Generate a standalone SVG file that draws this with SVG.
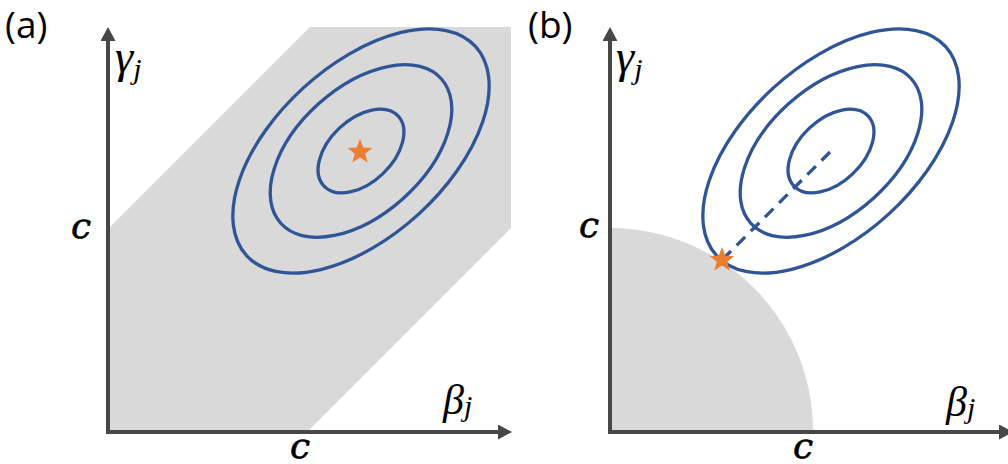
<svg xmlns="http://www.w3.org/2000/svg" width="1008" height="464" viewBox="0 0 1008 464">
  <style>
    .grey { fill: #d9d9d9; stroke: none; }
    .axis { fill: none; stroke: #474747; stroke-width: 4; stroke-linejoin: miter; }
    .contour { fill: none; stroke: #2f5597; stroke-width: 3.3; }
    .dash { fill: none; stroke: #2f5597; stroke-width: 3.3; stroke-dasharray: 12 8; }
    .star { fill: #ed7d31; }
    .lbl { font-family: "Open Sans", "Liberation Sans", sans-serif; font-size: 37px; fill: #000; }
    .m { font-family: "Liberation Serif", "DejaVu Serif", serif; font-style: italic; font-size: 42px; fill: #000; }
    .g { font-family: "Liberation Serif", "DejaVu Serif", serif; font-style: italic; font-size: 46px; fill: #000; }
    .c { font-family: "DejaVu Serif", "Liberation Serif", serif; font-style: italic; font-size: 36px; fill: #000; stroke: #000; stroke-width: 0.6; }
  </style>
  <defs>
    <marker id="arr" markerUnits="userSpaceOnUse" markerWidth="16" markerHeight="16" viewBox="0 0 16 16" refX="1" refY="7.5" orient="auto-start-reverse">
      <path d="M0,0 L14,7.5 L0,15 Z" fill="#474747"/>
    </marker>
    <polygon id="starShape" points="0,-13 3.23,-4.45 12.36,-4.02 5.23,1.7 7.64,10.52 0,5.5 -7.64,10.52 -5.23,1.7 -12.36,-4.02 -3.23,-4.45"/>
    <g id="contours">
      <ellipse cx="0" cy="0" rx="155" ry="85.5" transform="rotate(-42.4)"/>
      <ellipse cx="0" cy="0" rx="108" ry="63.5" transform="rotate(-42)"/>
      <ellipse cx="0" cy="0" rx="51" ry="31.5" transform="rotate(-43.5)"/>
    </g>
  </defs>

  <g id="panel-a">
    <polygon id="region-a" class="grey" points="108,229 310,27 511,27 511,228 307,432 108,432"/>
    <g id="contours-a" class="contour" transform="translate(361,151)">
      <use href="#contours"/>
    </g>
    <use id="star-a" class="star" href="#starShape" transform="translate(360,152)"/>
    <path id="axes-a" class="axis" d="M108,40 L108,432 L499,432" marker-start="url(#arr)" marker-end="url(#arr)"/>
    <text class="lbl" x="5" y="38">(a)</text>
    <text class="g" x="115" y="72">γ<tspan font-size="30" dy="7">j</tspan></text>
    <text class="c" x="71" y="238">c</text>
    <text class="c" x="290" y="458">c</text>
    <text class="m" x="443" y="414">β<tspan font-size="30" dy="2">j</tspan></text>
  </g>

  <g id="panel-b">
    <path id="region-b" class="grey" d="M610,431 L610,228 A203,203 0 0 1 813,431 Z"/>
    <g id="contours-b" class="contour" transform="translate(831,151)">
      <use href="#contours"/>
    </g>
    <g id="connectors">
      <line class="dash" x1="830" y1="152" x2="722" y2="260"/>
    </g>
    <use id="star-b" class="star" href="#starShape" transform="translate(722,260)"/>
    <path id="axes-b" class="axis" d="M610,40 L610,432 L1000,432" marker-start="url(#arr)" marker-end="url(#arr)"/>
    <text class="lbl" x="528" y="38">(b)</text>
    <text class="g" x="616" y="72">γ<tspan font-size="30" dy="7">j</tspan></text>
    <text class="c" x="579" y="237">c</text>
    <text class="c" x="793" y="458">c</text>
    <text class="m" x="946" y="416">β<tspan font-size="30" dy="2">j</tspan></text>
  </g>
</svg>
